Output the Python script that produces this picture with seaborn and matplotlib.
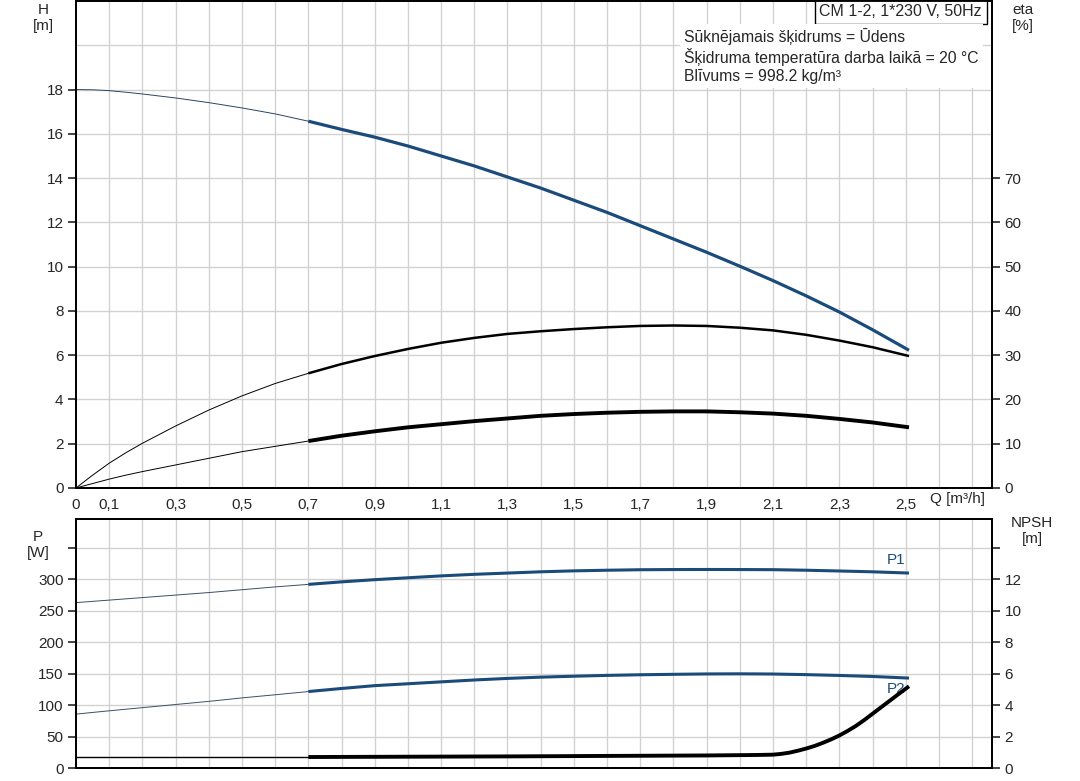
"""
plot.py - Curva de bomba CM 1-2 (H, eta, P1/P2, NPSH).
"""
import numpy as np
import matplotlib
matplotlib.use("Agg")
import matplotlib.pyplot as plt
import seaborn as sns

# --- datos ---
q = [0.0, 0.05, 0.1, 0.15, 0.2, 0.3, 0.4, 0.5, 0.6, 0.7, 0.8, 0.9, 1.0, 1.1,
     1.2, 1.3, 1.4, 1.5, 1.6, 1.7, 1.8, 1.9, 2.0, 2.1, 2.2, 2.3, 2.4, 2.51]
altura = [18.0, 17.99, 17.95, 17.88, 17.8, 17.62, 17.41, 17.17, 16.9, 16.57,
          16.2, 15.85, 15.45, 15.0, 14.55, 14.05, 13.55, 13.0, 12.45, 11.85,
          11.25, 10.65, 10.02, 9.37, 8.68, 7.95, 7.15, 6.22]
eta_bomba = [0.0, 2.9, 5.6, 7.95, 10.1, 14.0, 17.6, 20.8, 23.6, 25.9, 28.0,
             29.8, 31.4, 32.8, 33.9, 34.8, 35.4, 35.9, 36.3, 36.6, 36.7, 36.6,
             36.2, 35.6, 34.6, 33.3, 31.8, 29.8]
eta_total = [0.0, 1.0, 2.0, 2.9, 3.7, 5.2, 6.7, 8.2, 9.4, 10.6, 11.8, 12.8,
             13.7, 14.4, 15.1, 15.7, 16.3, 16.7, 17.0, 17.2, 17.3, 17.3, 17.1,
             16.8, 16.3, 15.6, 14.8, 13.7]
p1 = [263, 265, 267, 269, 271, 275, 279, 283.5, 288, 292, 296, 299.5, 302.5,
      305.5, 308, 310, 312, 313.5, 314.5, 315.3, 315.6, 315.7, 315.6, 315.4,
      314.5, 313.3, 312, 310]
p2 = [85.7, 88.4, 91, 93.5, 96, 101, 106, 111.5, 116.5, 121.6, 126.5, 131,
      134, 137, 140, 142.5, 144.5, 146, 147.3, 148.3, 149, 149.6, 149.8,
      149.5, 148.5, 147.2, 145.6, 143]
q_npsh = [0.0, 0.7, 1.0, 1.3, 1.6, 1.9, 2.0, 2.05, 2.1, 2.125, 2.15, 2.175,
          2.2, 2.225, 2.25, 2.275, 2.3, 2.325, 2.35, 2.375, 2.4, 2.425, 2.45,
          2.475, 2.51]
npsh = [0.7, 0.7, 0.72, 0.74, 0.77, 0.80, 0.82, 0.83, 0.85, 0.9, 0.98, 1.1,
        1.24, 1.4, 1.6, 1.82, 2.07, 2.36, 2.68, 3.05, 3.45, 3.85, 4.25, 4.65,
        5.2]

q_ticks_label = [0.1, 0.3, 0.5, 0.7, 0.9, 1.1, 1.3, 1.5, 1.7, 1.9, 2.1, 2.3, 2.5]
q_ticks_label_txt = ["0,1", "0,3", "0,5", "0,7", "0,9", "1,1", "1,3",
                     "1,5", "1,7", "1,9", "2,1", "2,3", "2,5"]
h_ticks = [0, 2, 4, 6, 8, 10, 12, 14, 16, 18]
eta_ticks = [0, 10, 20, 30, 40, 50, 60, 70]
p_ticks = [0, 50, 100, 150, 200, 250, 300]
npsh_ticks = [0, 2, 4, 6, 8, 10, 12]

titulo = "CM 1-2, 1*230 V, 50Hz"
info = "Sūknējamais šķidrums = Ūdens\nŠķidruma temperatūra darba laikā = 20 °C\nBlīvums = 998.2 kg/m³"

AZUL = "#1b4b7a"
GRIS = "#d2d2d2"
Q_MAX = 2.76
Q_LIM = 0.7

sns.set_style("white")
plt.rcParams["font.family"] = ["Liberation Sans", "DejaVu Sans"]
plt.rcParams["font.size"] = 11
plt.rcParams["axes.edgecolor"] = "black"
plt.rcParams["axes.linewidth"] = 1.3


def _tramos(x, y):
    x = np.asarray(x, float)
    y = np.asarray(y, float)
    fino = x <= Q_LIM + 1e-9
    grueso = x >= Q_LIM - 1e-9
    return (x[fino], y[fino]), (x[grueso], y[grueso])


def _curva(ax, x, y, color, lw, lw_fino=0.7, color_fino=None):
    (xf, yf), (xg, yg) = _tramos(x, y)
    sns.lineplot(x=xf, y=yf, ax=ax, color=color_fino or color, lw=lw_fino,
                 sort=False, estimator=None)
    sns.lineplot(x=xg, y=yg, ax=ax, color=color, lw=lw, sort=False,
                 estimator=None, solid_capstyle="butt", solid_joinstyle="round")


def _rejilla(ax, y_paso, y_max):
    for v in np.arange(0.1, Q_MAX, 0.1):
        ax.axvline(v, color=GRIS, lw=1, zorder=0)
    for v in np.arange(y_paso, y_max, y_paso):
        ax.axhline(v, color=GRIS, lw=1, zorder=0)


fig = plt.figure(figsize=(10.8, 7.81), dpi=100)
ax_h = fig.add_axes([0.0704, 0.3752, 0.8481, 0.6235])
ax_p = fig.add_axes([0.0704, 0.0166, 0.8481, 0.3189])

# --- grafico superior: H y eta ---
ax_h.set_xlim(0, Q_MAX)
ax_h.set_ylim(0, 22)
_rejilla(ax_h, 2, 22)
ax_eta = ax_h.twinx()
ax_eta.set_ylim(0, 110)

_curva(ax_h, q, altura, AZUL, 2.3, color_fino="#2b4560")
_curva(ax_eta, q, eta_bomba, "black", 1.8)
_curva(ax_eta, q, eta_total, "black", 2.8)

marcas_q = np.round(np.arange(0, 2.7, 0.2), 1)
ax_h.set_xticks(marcas_q)
ax_h.set_xticklabels(["0"] + [""] * (len(marcas_q) - 1))
ax_h.set_xticks(q_ticks_label, minor=True)
ax_h.set_xticklabels(q_ticks_label_txt, minor=True)
ax_h.tick_params(axis="x", which="major", direction="out", length=6, width=1.2, pad=1)
ax_h.tick_params(axis="x", which="minor", length=0, pad=7)
ax_h.set_yticks(h_ticks)
ax_h.tick_params(axis="y", direction="out", length=6, width=1.2, pad=3)
ax_eta.set_yticks(eta_ticks)
ax_eta.tick_params(axis="y", direction="out", length=6, width=1.2, pad=3)
ax_h.text(2.655, -0.2, "Q [m³/h]", ha="center", va="top", fontsize=11)
for a in (ax_h, ax_eta):
    a.set_xlabel("")
    a.set_ylabel("")

ax_h.text(0.989, 0.993, titulo, transform=ax_h.transAxes, ha="right", va="top",
          fontsize=11.5, zorder=5,
          bbox=dict(boxstyle="square,pad=0.3", fc="white", ec="black", lw=1))
ax_h.text(0.664, 0.945, info, transform=ax_h.transAxes, ha="left", va="top",
          fontsize=11.3, linespacing=1.22, zorder=5,
          bbox=dict(boxstyle="square,pad=0.25", fc="white", ec="none"))

# --- grafico inferior: P1, P2 y NPSH ---
ax_p.set_xlim(0, Q_MAX)
ax_p.set_ylim(0, 396)
_rejilla(ax_p, 50, 396)
ax_npsh = ax_p.twinx()
ax_npsh.set_ylim(0, 396 / 25)

_curva(ax_p, q, p1, AZUL, 2.2, color_fino="#3a4f66")
_curva(ax_p, q, p2, AZUL, 2.2, color_fino="#3a4f66")
_curva(ax_npsh, q_npsh, npsh, "black", 2.8, lw_fino=1.0)

ax_p.set_xticks([])
ax_p.set_yticks(p_ticks + [350])
ax_p.set_yticklabels([str(v) for v in p_ticks] + [""])
ax_p.tick_params(axis="y", direction="out", length=6, width=1.2, pad=3)
ax_npsh.set_yticks(npsh_ticks + [14])
ax_npsh.set_yticklabels([str(v) for v in npsh_ticks] + [""])
ax_npsh.tick_params(axis="y", direction="out", length=6, width=1.2, pad=3)
for a in (ax_p, ax_npsh):
    a.set_xlabel("")
    a.set_ylabel("")
ax_p.text(2.47, 330, "P1", color=AZUL, ha="center", va="center", fontsize=11)
ax_p.text(2.47, 126, "P2", color=AZUL, ha="center", va="center", fontsize=11)

# --- etiquetas de ejes ---
fig.text(43 / 1080, 1 - 3 / 781, "H\n[m]", ha="center", va="top", fontsize=11)
fig.text(1023 / 1080, 1 - 3 / 781, "eta\n[%]", ha="center", va="top", fontsize=11)
fig.text(38 / 1080, 1 - 530 / 781, "P\n[W]", ha="center", va="top", fontsize=11)
fig.text(1032 / 1080, 1 - 516 / 781, "NPSH\n[m]", ha="center", va="top", fontsize=11)

fig.savefig("out.png", dpi=100)
